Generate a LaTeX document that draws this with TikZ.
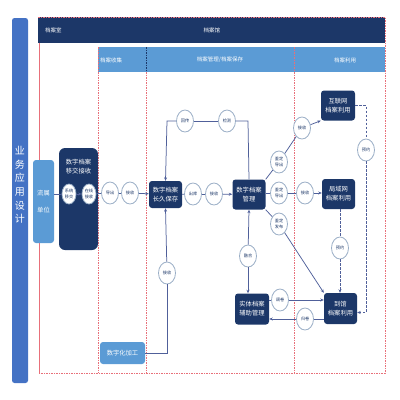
\documentclass[tikz,border=0pt]{standalone}
\usepackage{fontspec}
\newfontfamily\cjk{Noto Sans CJK SC}
\usetikzlibrary{shapes.geometric,arrows.meta}
\definecolor{navy}{HTML}{1C3768}
\definecolor{lblue}{HTML}{5B9BD5}
\definecolor{barblue}{HTML}{4472C4}
\definecolor{redline}{HTML}{E8707A}
\definecolor{connc}{HTML}{50609A}
\definecolor{ring}{HTML}{9AAEC6}
\tikzset{
  darkbox/.style={fill=navy, rounded corners=3pt, text=white, font=\cjk\fontsize{6.3}{9}\selectfont, align=center, inner sep=0pt},
  lightbox/.style={fill=lblue, rounded corners=3pt, text=white, font=\cjk\fontsize{6.3}{9}\selectfont, align=center, inner sep=0pt},
  bub/.style={ellipse, draw=ring, fill=white, line width=0.8pt, minimum width=17pt, minimum height=22pt, inner sep=0pt, font=\cjk\fontsize{4.2}{5.5}\selectfont, text=navy, align=center},
  sbub/.style={bub, minimum width=14pt, minimum height=20pt},
  cn/.style={draw=connc, line width=0.75pt},
  arr/.style={cn, -{Stealth[length=3.5pt,width=3pt]}},
  dsh/.style={dash pattern=on 2.5pt off 1.5pt},
  frame/.style={draw=redline, line width=0.7pt, dash pattern=on 1.5pt off 1pt},
  hdr/.style={text=white, font=\cjk\fontsize{5.5}{6.5}\selectfont, inner sep=0pt}
}
\begin{document}
\begin{tikzpicture}[x=1pt,y=-1pt]
\useasboundingbox (0,0) rectangle (400,400);
% left bar
\fill[barblue, rounded corners=2.5pt] (12,18) rectangle (28,383);
\node[text=white, font=\cjk\fontsize{10}{13.6}\selectfont, align=center, inner sep=0pt] (side) at (20,185) {业\\务\\应\\用\\设\\计};
% headers
\fill[navy] (38,17) rectangle (385,43);
\fill[lblue] (98,47) rectangle (385,72);
\node[hdr, anchor=west] (h1) at (45,30) {档案室};
\node[hdr] (h2) at (212,30) {档案馆};
\node[hdr, anchor=west] (h3) at (100,60) {档案收集};
\node[hdr] (h4) at (220,60) {档案管理/档案保存};
\node[hdr] (h5) at (345,60) {档案利用};
% frame
\draw[frame] (38,17) -- (385,17) -- (385,373) -- (38,373);
\draw[draw=redline, line width=0.7pt] (39,43) -- (39,373);
\draw[frame] (98,47) -- (98,373);
\draw[frame] (146,72) -- (146,373);
\draw[frame] (294,72) -- (294,373);
\draw[draw=navy, line width=0.7pt, dash pattern=on 1.5pt off 1pt] (146,47) -- (146,72);
\draw[frame] (294,47) -- (294,72);
% nodes
\node[lightbox, minimum width=21pt, minimum height=83pt] (src) at (43.5,201.5) {流属\\[8pt]单位};
\node[darkbox, rounded corners=6pt, minimum width=39pt, minimum height=102pt] (xfer) at (78.5,199) {};
\node[text=white, font=\cjk\fontsize{6.3}{9}\selectfont, align=center, inner sep=0pt] (xferlbl) at (78.5,167) {数字档案\\移交接收};
\node[sbub] (c1) at (69,194) {系统\\移交};
\node[sbub] (c2) at (89,194) {在线\\接收};
\node[bub] (exp) at (110,193) {导出};
\node[bub] (rcv1) at (130,193) {接收};
\node[darkbox, minimum width=33pt, minimum height=27pt] (keep) at (165.5,194.5) {数字档案\\长久保存};
\node[bub] (out) at (193,194) {出库};
\node[bub] (rcv2) at (214,194) {接收};
\node[darkbox, minimum width=33pt, minimum height=30pt] (mgmt) at (249,194.5) {数字档案\\管理};
\node[bub] (lp1) at (185,121) {回传};
\node[bub] (lp2) at (227,121) {检测};
\node[lightbox, minimum width=45pt, minimum height=22pt] (digit) at (122.5,353) {数字化加工};
\node[bub] (rcv3) at (167,273) {接收};
\node[bub] (fuse) at (248,256) {融合};
\node[darkbox, minimum width=34pt, minimum height=31pt] (phys) at (252,309) {实体档案\\辅助管理};
\node[darkbox, minimum width=33pt, minimum height=31pt] (visit) at (340.5,308.5) {到馆\\档案利用};
\node[bub] (tune) at (280,300) {调卷};
\node[bub] (back) at (305,319) {归卷};
\node[bub] (id1) at (279,162) {鉴定\\导出};
\node[bub] (id2) at (279,193) {鉴定\\导出};
\node[bub] (id3) at (279,224) {鉴定\\发布};
\node[bub] (rcv4) at (302,128) {接收};
\node[bub] (rcv5) at (305,193) {接收};
\node[darkbox, minimum width=34pt, minimum height=30pt] (inet) at (338,105.5) {互联网\\档案利用};
\node[darkbox, minimum width=33pt, minimum height=30pt] (lan) at (338.5,194) {局域网\\档案利用};
\node[bub] (ap1) at (366,150) {预约};
\node[bub] (ap2) at (340,248) {预约};
\coordinate (tr) at (248,121);
\coordinate (tl) at (167,121);
% connectors
\draw[cn] (src.east |- c1) -- (c1);
\draw[arr] (c1) -- (c2);
\draw[cn] (c2) -- (exp);
\draw[cn] (exp) -- (rcv1);
\draw[arr] (rcv1) -- (keep);
\draw[cn] (keep) -- (out);
\draw[cn] (out) -- (rcv2);
\draw[arr] (rcv2) -- (mgmt);
\draw[cn] (mgmt.north) -- (tr) -- (lp2);
\draw[cn] (lp2) -- (lp1);
\draw[arr] (lp1) -- (tl) -- (keep.north);
\draw[cn] (digit.east) -| (rcv3.south);
\draw[arr] (rcv3) -- (keep.south);
\draw[arr] (fuse) -- (mgmt.south);
\draw[arr] (fuse) -- (phys.north -| fuse);
\draw[cn] (mgmt.north east) -- (id1);
\draw[cn] (mgmt.east |- id2) -- (id2);
\draw[cn] (mgmt.south east) -- (id3);
\draw[cn] (id1) -- (rcv4);
\draw[arr] (rcv4) -- (inet.south west);
\draw[cn] (id2) -- (rcv5);
\draw[arr] (rcv5) -- (lan.west |- rcv5);
\draw[arr] (id3) -- (visit.north west);
\draw[cn] (phys.east |- tune) -- (tune);
\draw[arr] (tune) -- (visit.west |- tune);
\draw[cn] (visit.west |- back) -- (back);
\draw[arr] (back) -- (phys.east |- back);
\draw[cn, dsh] (inet.east) -| (ap1.north);
\draw[arr, dsh] (ap1.south) |- ([yshift=-4pt]visit.east);
\draw[cn, dsh] (lan.south -| ap2) -- (ap2);
\draw[arr, dsh] (ap2) -- (visit.north -| ap2);
\end{tikzpicture}
\end{document}
